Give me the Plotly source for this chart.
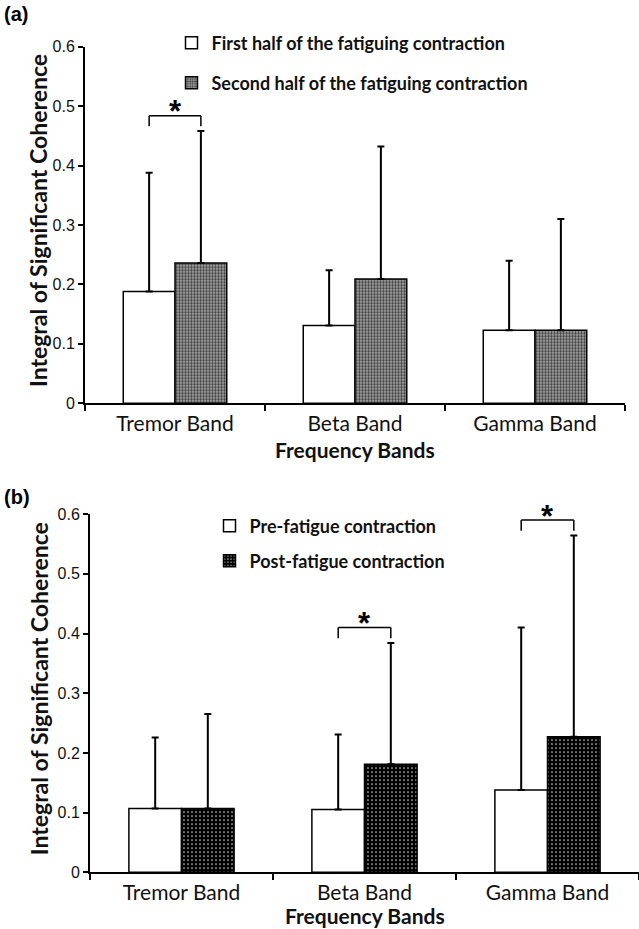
import plotly.graph_objects as go

# Frequency bands on the x axis of both panels
bands = ["Tremor Band", "Beta Band", "Gamma Band"]

# Panel (a): first vs second half of the fatiguing contraction (mean, upper SD)
first_half = [0.188, 0.131, 0.123]
first_half_sd = [0.200, 0.093, 0.117]
second_half = [0.236, 0.209, 0.123]
second_half_sd = [0.222, 0.223, 0.187]
sig_a = ["Tremor Band"]

# Panel (b): pre- vs post-fatigue contraction (mean, upper SD)
pre_fatigue = [0.107, 0.105, 0.138]
pre_fatigue_sd = [0.119, 0.126, 0.272]
post_fatigue = [0.107, 0.181, 0.227]
post_fatigue_sd = [0.158, 0.203, 0.337]
sig_b = ["Beta Band", "Gamma Band"]

y_ticks = [0, 0.1, 0.2, 0.3, 0.4, 0.5, 0.6]

W, H = 639, 929
BARGAP = 0.425
SANS = "Lato"
NUM = "Liberation Sans"
INK = "#111"


def py(px):
    return 1 - px / H


def err(vals):
    return dict(type="data", symmetric=False, array=vals,
                arrayminus=[0] * len(vals), color="black",
                thickness=2, width=3.5)


line = dict(color="black", width=1.5)
grey_fill = dict(shape=".", size=3, solidity=0.5, fgcolor="#3a3a3a",
                 bgcolor="#b4b4b4", fillmode="replace")
dark_fill = dict(shape=".", size=4, solidity=0.12, fgcolor="white",
                 bgcolor="black", fillmode="replace")

fig = go.Figure()
fig.add_trace(go.Bar(
    x=bands, y=first_half, error_y=err(first_half_sd),
    name="First half of the fatiguing contraction",
    marker=dict(color="white", line=line),
    xaxis="x", yaxis="y", legend="legend", showlegend=True))
fig.add_trace(go.Bar(
    x=bands, y=second_half, error_y=err(second_half_sd),
    name="Second half of the fatiguing contraction",
    marker=dict(color="#8c8c8c", line=line, pattern=grey_fill),
    xaxis="x", yaxis="y", legend="legend2", showlegend=True))
fig.add_trace(go.Bar(
    x=bands, y=pre_fatigue, error_y=err(pre_fatigue_sd),
    name="Pre-fatigue contraction",
    marker=dict(color="white", line=line),
    xaxis="x2", yaxis="y2", legend="legend3", showlegend=True))
fig.add_trace(go.Bar(
    x=bands, y=post_fatigue, error_y=err(post_fatigue_sd),
    name="Post-fatigue contraction",
    marker=dict(color="black", line=line, pattern=dark_fill),
    xaxis="x2", yaxis="y2", legend="legend4", showlegend=True))

# significance brackets drawn over the two bars of a band
half = (1 - BARGAP) / 4
shapes, annots = [], []


def bracket(band, tops, xr, yr):
    i = bands.index(band)
    top = max(tops[k][i] for k in range(2))
    y_leg, y_bar = top + 0.008, top + 0.026
    x0, x1 = i - half, i + half
    for (a, b, c, d) in [(x0, y_leg, x0, y_bar), (x0, y_bar, x1, y_bar),
                         (x1, y_bar, x1, y_leg)]:
        shapes.append(dict(type="line", xref=xr, yref=yr, x0=a, y0=b,
                           x1=c, y1=d, line=dict(color="black", width=1.5)))
    annots.append(dict(xref=xr, yref=yr, x=i, y=y_bar, yanchor="middle",
                       yshift=4, text="<b>*</b>", showarrow=False,
                       font=dict(family=NUM, size=31, color="black")))


tops_a = [[m + s for m, s in zip(first_half, first_half_sd)],
          [m + s for m, s in zip(second_half, second_half_sd)]]
tops_b = [[m + s for m, s in zip(pre_fatigue, pre_fatigue_sd)],
          [m + s for m, s in zip(post_fatigue, post_fatigue_sd)]]
for b in sig_a:
    bracket(b, tops_a, "x", "y")
for b in sig_b:
    bracket(b, tops_b, "x2", "y2")

# panel letters
for lab, ypx in [("(a)", 14), ("(b)", 497)]:
    annots.append(dict(xref="paper", yref="paper", x=2 / W, y=py(ypx),
                       xanchor="left", yanchor="middle", text="<b>%s</b>" % lab,
                       showarrow=False,
                       font=dict(family=NUM, size=20, color="black")))

# axis titles
xa_dom = [85 / W, 625 / W]
xb_dom = [90 / W, 1.0]
ya_px = (46.7, 403.3)
yb_px = (514.1, 872.3)
for dom, ypx in [(xa_dom, 449), (xb_dom, 915)]:
    annots.append(dict(xref="paper", yref="paper", x=sum(dom) / 2, y=py(ypx),
                       xanchor="center", yanchor="middle",
                       text="<b>Frequency Bands</b>", showarrow=False,
                       font=dict(family=SANS, size=21, color=INK)))
for (t, b), xpx in [(ya_px, 38), (yb_px, 39)]:
    annots.append(dict(xref="paper", yref="paper", x=xpx / W,
                       y=py((t + b) / 2 - 4), textangle=-90,
                       xanchor="center", yanchor="middle",
                       text="<b>Integral of Significant Coherence</b>",
                       showarrow=False,
                       font=dict(family=SANS, size=23, color=INK)))

xax = dict(type="category", showline=True, linecolor="black", linewidth=2,
           ticks="outside", tickson="boundaries", ticklen=6, tickwidth=2,
           tickcolor="black", showgrid=False, zeroline=False,
           tickfont=dict(family=SANS, size=21, color=INK),
           automargin=False)
yax = dict(range=[0, 0.6], tickvals=y_ticks, showline=True, linecolor="black",
           linewidth=2, ticks="outside", ticklen=5, tickwidth=2,
           tickcolor="black", showgrid=False, zeroline=False,
           tickfont=dict(family=NUM, size=16, color=INK), automargin=False)

leg = dict(bgcolor="rgba(0,0,0,0)", borderwidth=0, xanchor="left",
           yanchor="top", font=dict(family=SANS, size=18, color=INK,
                                    weight="bold"))

fig.update_layout(
    width=W, height=H, margin=dict(l=0, r=0, t=0, b=0),
    paper_bgcolor="white", plot_bgcolor="white", showlegend=True,
    barmode="group", bargap=BARGAP, bargroupgap=0,
    xaxis=dict(xax, domain=xa_dom, anchor="y"),
    yaxis=dict(yax, domain=[py(ya_px[1]), py(ya_px[0])], anchor="x"),
    xaxis2=dict(xax, domain=xb_dom, anchor="y2"),
    yaxis2=dict(yax, domain=[py(yb_px[1]), py(yb_px[0])], anchor="x2"),
    legend=dict(leg, x=171.5 / W, y=py(24.5)),
    legend2=dict(leg, x=171.5 / W, y=py(64.5)),
    legend3=dict(leg, x=209.5 / W, y=py(507.5)),
    legend4=dict(leg, x=209.5 / W, y=py(542.5)),
    shapes=shapes, annotations=annots,
)

fig.write_html("out.html")
